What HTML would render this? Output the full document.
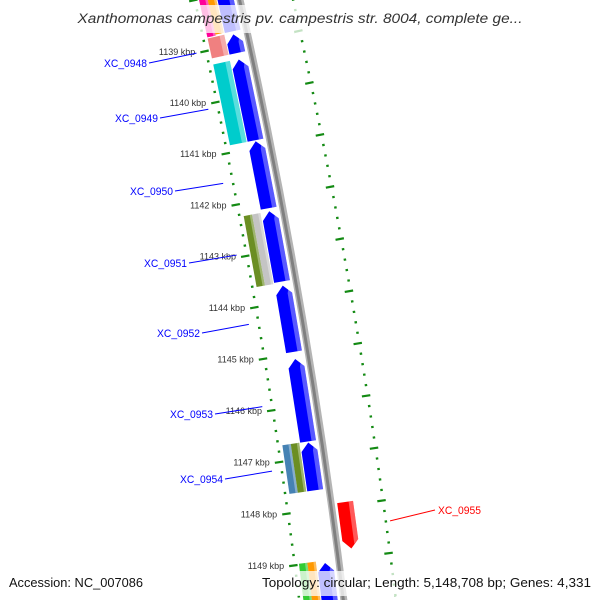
<!DOCTYPE html>
<html><head><meta charset="utf-8"><style>
html,body{margin:0;padding:0;background:#fff;width:600px;height:600px;overflow:hidden;}
svg{display:block;font-family:"Liberation Sans",sans-serif;overflow:hidden;}
</style></head><body>
<svg id="map" width="600" height="600" viewBox="0 0 600 600" xmlns="http://www.w3.org/2000/svg">
<defs><clipPath id="frame"><rect x="0" y="0" width="600" height="600"/></clipPath></defs>
<g clip-path="url(#frame)">
<g id="axis"></g>
<g id="genes"></g>
<g id="labels"></g>
</g>
<rect x="72" y="5" width="456" height="28" fill="#fff" opacity="0.75"/>
<text x="300" y="23" text-anchor="middle" font-size="13.5" font-style="italic" fill="#333" textLength="445" lengthAdjust="spacingAndGlyphs">Xanthomonas campestris pv. campestris str. 8004, complete ge...</text>
<rect x="4" y="571" width="146" height="25" fill="#fff" opacity="0.75"/>
<rect x="256" y="571" width="340" height="25" fill="#fff" opacity="0.75"/>
<text x="9" y="587" font-size="12.5" fill="#111" textLength="134" lengthAdjust="spacingAndGlyphs">Accession: NC_007086</text>
<text x="591" y="587" text-anchor="end" font-size="12.5" fill="#111" textLength="329" lengthAdjust="spacingAndGlyphs">Topology: circular; Length: 5,148,708 bp; Genes: 4,331</text>
</svg>
<script>
// ---- data ----
const tickValues = [1139,1140,1141,1142,1143,1144,1145,1146,1147,1148,1149];
const tickLabels = ['1139 kbp','1140 kbp','1141 kbp','1142 kbp','1143 kbp','1144 kbp','1145 kbp','1146 kbp','1147 kbp','1148 kbp','1149 kbp'];
const featStart = [1137.70,1138.80,1139.29,1140.88,1142.24,1143.68,1145.10,1146.71,1149.03,
                   1137.65,1137.65,1138.77,1139.28,1142.24,1142.24,1146.69,1146.69,1148.98,1148.98,1147.93];
const featEnd   = [1138.74,1139.16,1140.86,1142.18,1143.60,1144.96,1146.69,1147.63,1150.6,
                   1138.75,1138.73,1139.16,1140.86,1143.62,1143.62,1147.63,1147.63,1150.6,1150.6,1148.82];
const featTrack = ['blue','blue','blue','blue','blue','blue','blue','blue','blue',
                   'in','out','full','full','in','out','in','out','in','out','red'];
const featColor = ['#0000ff','#0000ff','#0000ff','#0000ff','#0000ff','#0000ff','#0000ff','#0000ff','#0000ff',
                   '#ff0099','#ff9900','#f08080','#00cccc','#6b8e23','#c4c4c4','#4682b4','#6b8e23','#33cc33','#ff9900','#ff0000'];
const featStrand = [-1,-1,-1,-1,-1,-1,-1,-1,-1, 0,0,0,0,0,0,0,0,0,0, 1];
const geneNames = ['XC_0948','XC_0949','XC_0950','XC_0951','XC_0952','XC_0953','XC_0954'];
const geneLabelKbp = [1139.0,1140.1,1141.55,1142.95,1144.3,1145.9,1147.15];
const redName = 'XC_0955';
const redLabelKbp = 1148.4;

// ---- geometry ----
const CX=-5885, CY=1368;
const RT=6230, RB=6276, RR=6326;
const RAD={blue:[6254,6270],full:[6236,6253],in:[6236,6244.5],out:[6244.5,6253],red:[6282,6298]};
function ang(k){return (-7.4-(1149-k)*0.48)*Math.PI/180;}
function P(k,r){const a=ang(k);return [CX+r*Math.cos(a),CY+r*Math.sin(a)];}
const NS='http://www.w3.org/2000/svg';
function mk(tag,parent){const e=document.createElementNS(NS,tag);parent.appendChild(e);return e;}
function pts(a){return a.map(p=>p[0].toFixed(2)+','+p[1].toFixed(2)).join(' ');}
const axis=document.getElementById('axis'),genes=document.getElementById('genes'),labels=document.getElementById('labels');

function arcPath(r,k0,k1){const a=P(k0,r),b=P(k1,r);return 'M'+a[0]+','+a[1]+' A'+r+','+r+' 0 0 1 '+b[0]+','+b[1];}
const bb1=mk('path',axis);


bb1.setAttribute('d',arcPath(RB,1137.5,1150.6));bb1.setAttribute('stroke','#b4b4b4');bb1.setAttribute('stroke-width','7');bb1.setAttribute('fill','none');
const bb2=mk('path',axis);


bb2.setAttribute('d',arcPath(RB-0.5,1137.5,1150.6));bb2.setAttribute('stroke','#808080');bb2.setAttribute('stroke-width','3');bb2.setAttribute('fill','none');

for(let i=0;i<=62;i++){
  const k=1137.6+i*0.2;
  const major=Math.abs(k-Math.round(k))<0.01;
  [RT,RR].forEach(r=>{
    const a=major?P(k,r-4):P(k,r+0.5), b=major?P(k,r+4.5):P(k,r+3);
    if(a[1]>602||b[1]>602)return;
    const l=mk('line',axis);
    
    
    l.setAttribute('x1',a[0]);l.setAttribute('y1',a[1]);l.setAttribute('x2',b[0]);l.setAttribute('y2',b[1]);
    l.setAttribute('stroke','#138a13');l.setAttribute('stroke-width','2.2');
  });
}
tickValues.forEach((v,i)=>{
  const p=P(v,RT);
  const t=mk('text',axis);
  
  
  t.setAttribute('x',p[0]-9);t.setAttribute('y',p[1]+3.5);t.setAttribute('text-anchor','end');
  t.setAttribute('font-size','9');t.setAttribute('fill','#333');
  t.textContent=tickLabels[i];
});

const HEAD=0.16;
featStart.forEach((s,i)=>{
  const e=featEnd[i],[r1,r2]=RAD[featTrack[i]],st=featStrand[i],rm=(r1+r2)/2;
  let poly;
  if(st===-1){poly=[P(s,rm),P(s+HEAD,r2),P(e,r2),P(e,r1),P(s+HEAD,r1)];}
  else if(st===1){poly=[P(s,r1),P(s,r2),P(e-HEAD,r2),P(e,rm),P(e-HEAD,r1)];}
  else{poly=[P(s,r1),P(s,r2),P(e,r2),P(e,r1)];}
  const g=mk('polygon',genes);
  
  
  g.setAttribute('points',pts(poly));g.setAttribute('fill',featColor[i]);
  const hr=r2-(r2-r1)*0.28;
  let hp;
  if(st===-1)hp=[P(s+HEAD*0.5,hr+(r2-hr)*0.3),P(s+HEAD,r2),P(e,r2),P(e,hr),P(s+HEAD,hr)];
  else if(st===1)hp=[P(s,hr),P(s,r2),P(e-HEAD,r2),P(e-HEAD*0.5,hr)];
  else hp=[P(s,hr),P(s,r2),P(e,r2),P(e,hr)];
  const h=mk('polygon',genes);
  
  
  h.setAttribute('points',pts(hp));h.setAttribute('fill','#fff');h.setAttribute('opacity','0.35');
});

const labelEnd=[[147,67],[158,122],[173,195],[187,267],[200,337],[213,418],[223,483]];
geneNames.forEach((n,i)=>{
  const [lx,ly]=labelEnd[i];
  const p=P(geneLabelKbp[i],RT-8);
  const l=mk('line',labels);
  
  
  l.setAttribute('x1',lx+2);l.setAttribute('y1',ly-4);l.setAttribute('x2',p[0]);l.setAttribute('y2',p[1]);
  l.setAttribute('stroke','#0000ff');l.setAttribute('stroke-width','1');
  const t=mk('text',labels);
  
  
  t.setAttribute('x',lx);t.setAttribute('y',ly);t.setAttribute('text-anchor','end');
  t.setAttribute('font-size','11');t.setAttribute('fill','#0000ff');
  t.setAttribute('textLength','43');t.setAttribute('lengthAdjust','spacingAndGlyphs');
  t.textContent=n;
});
{
  const p=P(redLabelKbp,RR+6);
  const l=mk('line',labels);
  
  
  l.setAttribute('x1',p[0]);l.setAttribute('y1',p[1]);l.setAttribute('x2',435);l.setAttribute('y2',510);
  l.setAttribute('stroke','#ff0000');l.setAttribute('stroke-width','1');
  const t=mk('text',labels);
  
  
  t.setAttribute('x',438);t.setAttribute('y',514);
  t.setAttribute('font-size','11');t.setAttribute('fill','#ff0000');
  t.setAttribute('textLength','43');t.setAttribute('lengthAdjust','spacingAndGlyphs');
  t.textContent=redName;
}
</script>
</body></html>
